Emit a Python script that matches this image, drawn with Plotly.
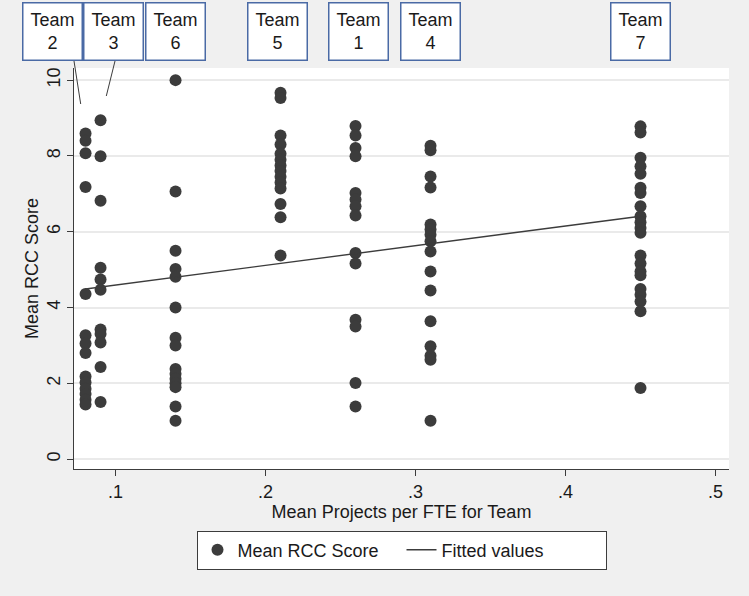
import plotly.graph_objects as go

# ---------------- data ----------------
team_labels = ["Team<br>2", "Team<br>3", "Team<br>6", "Team<br>5", "Team<br>1", "Team<br>4", "Team<br>7"]
team_x = [0.08, 0.09, 0.14, 0.21, 0.26, 0.31, 0.45]

scores_team2 = [8.59, 8.40, 8.07, 7.18, 4.36, 3.27, 3.05, 2.80, 2.18, 2.02, 1.86, 1.72, 1.57, 1.44]
scores_team3 = [8.94, 7.99, 6.82, 5.05, 4.74, 4.47, 3.42, 3.30, 3.08, 2.43, 1.51]
scores_team6 = [10.0, 7.06, 5.50, 5.02, 4.81, 4.00, 3.20, 3.00, 2.38, 2.25, 2.12, 2.00, 1.90, 1.39, 1.01]
scores_team5 = [9.67, 9.53, 8.54, 8.30, 8.06, 7.90, 7.75, 7.60, 7.45, 7.30, 7.14, 6.73, 6.38, 5.37]
scores_team1 = [8.79, 8.54, 8.21, 7.99, 7.02, 6.85, 6.67, 6.43, 5.44, 5.16, 3.68, 3.50, 2.01, 1.39]
scores_team4 = [8.27, 8.15, 7.46, 7.17, 6.19, 6.06, 5.92, 5.75, 5.48, 4.95, 4.45, 3.64, 2.98, 2.73, 2.62, 1.01]
scores_team7 = [8.78, 8.62, 7.95, 7.73, 7.53, 7.16, 7.02, 6.67, 6.41, 6.25, 6.10, 5.97, 5.37, 5.16,
                4.95, 4.85, 4.49, 4.34, 4.16, 3.90, 1.88]

team_scores = [scores_team2, scores_team3, scores_team6, scores_team5, scores_team1, scores_team4, scores_team7]

fit_x = [0.08, 0.45]
fit_y = [4.49, 6.41]

x_tickvals = [0.1, 0.2, 0.3, 0.4, 0.5]
x_ticktext = [".1", ".2", ".3", ".4", ".5"]
y_tickvals = [0, 2, 4, 6, 8, 10]

# ---------------- figure ----------------
FONT = "Liberation Sans, Arial, sans-serif"
DARK = "#3c3c3c"
TXT = "#1a1a1a"

xs, ys = [], []
for tx, sc in zip(team_x, team_scores):
    xs += [tx] * len(sc)
    ys += sc

fig = go.Figure()
fig.add_trace(go.Scatter(
    x=xs, y=ys, mode="markers", name="Mean RCC Score",
    marker=dict(size=12, color=DARK, line=dict(width=0)),
))
fig.add_trace(go.Scatter(
    x=fit_x, y=fit_y, mode="lines", name="Fitted values",
    line=dict(color=DARK, width=1.4),
))

W, H = 749, 596
ML, MR, MT, MB = 74, 20, 68, 127
PW, PH = W - ML - MR, H - MT - MB


def px2paper(px, py):
    return (px - ML) / PW, (H - MB - py) / PH


# team label boxes
xshifts = [-33, 13, 0, -3, 3, 0, 0]
annotations = []
top_y = px2paper(0, 2)[1]
for lab, tx, xsft in zip(team_labels, team_x, xshifts):
    annotations.append(dict(
        x=tx, xref="x", y=top_y, yref="paper", yanchor="top", xanchor="center",
        xshift=xsft, text=lab, showarrow=False, align="center", valign="middle",
        width=56, height=54, bgcolor="white", bordercolor="#4a6aa5", borderwidth=1.5,
        borderpad=1, font=dict(family=FONT, size=18, color=TXT),
    ))

shapes = []
for (x0, y0, x1, y1) in [(74, 61, 80.7, 104), (115, 61, 106.3, 96)]:
    a0, b0 = px2paper(x0, y0)
    a1, b1 = px2paper(x1, y1)
    shapes.append(dict(type="line", xref="paper", yref="paper", x0=a0, y0=b0, x1=a1, y1=b1,
                       line=dict(color=DARK, width=1)))

fig.update_layout(
    width=W, height=H,
    margin=dict(l=ML, r=MR, t=MT, b=MB, pad=0),
    paper_bgcolor="#f0f0f0", plot_bgcolor="white",
    font=dict(family=FONT, size=18, color=TXT),
    annotations=annotations, shapes=shapes,
    legend=dict(
        orientation="h", x=0.5, xanchor="center", y=px2paper(0, 550)[1], yanchor="middle",
        bgcolor="white", bordercolor=DARK, borderwidth=1,
        font=dict(family=FONT, size=18, color=TXT), itemwidth=30,
        entrywidth=159, entrywidthmode="pixels",
    ),
    xaxis=dict(
        range=[0.0723, 0.509], tickvals=x_tickvals, ticktext=x_ticktext,
        showgrid=False, zeroline=False, showline=True, linecolor=DARK, linewidth=1,
        ticks="outside", ticklen=6, tickcolor=DARK,
        title=dict(text="Mean Projects per FTE for Team", standoff=2,
                   font=dict(family=FONT, size=18, color=TXT)),
        tickfont=dict(family=FONT, size=18, color=TXT),
    ),
    yaxis=dict(
        range=[-0.26, 10.32], tickvals=y_tickvals,
        showgrid=True, gridcolor="#eaeaea", gridwidth=1.5, zeroline=False,
        showline=True, linecolor=DARK, linewidth=1,
        ticks="outside", ticklen=6, tickcolor=DARK, tickangle=-90,
        title=dict(text="Mean RCC Score", standoff=0,
                   font=dict(family=FONT, size=18, color=TXT)),
        tickfont=dict(family=FONT, size=18, color=TXT),
    ),
    showlegend=True,
)

fig.write_html("out.html", config={"displayModeBar": False},
               post_script="document.body.style.margin='0';")
